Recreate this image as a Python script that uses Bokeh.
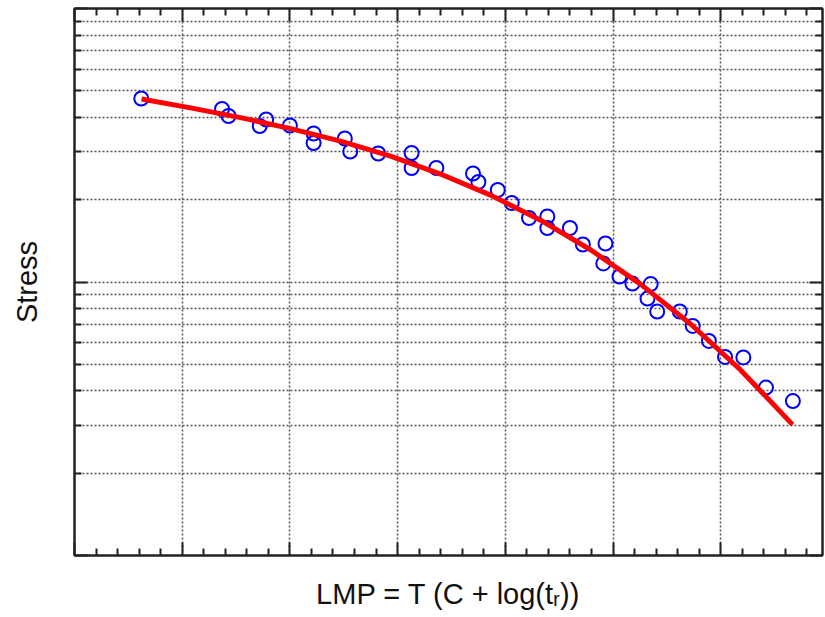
from bokeh.plotting import figure
from bokeh.models import Range1d, FixedTicker, LinearAxis, LogAxis
from bokeh.embed import file_html
from bokeh.resources import INLINE

# ---- data ----
lmp = [16.62, 17.37, 17.43, 17.72, 17.78, 18.00, 18.22, 18.22, 18.51, 18.56,
       18.82, 19.13, 19.13, 19.36, 19.70, 19.75, 19.93, 20.06, 20.22, 20.39,
       20.39, 20.60, 20.72, 20.93, 20.91, 21.06, 21.18, 21.35, 21.32, 21.41,
       21.62, 21.74, 21.89, 22.04, 22.21, 22.42, 22.67]
stress = [468.7, 429.1, 404.5, 371.9, 392.8, 373.4, 349.1, 322.3, 334.7, 300.0,
          295.0, 296.3, 261.1, 261.1, 249.3, 232.1, 217.0, 194.5, 171.4, 173.6,
          157.6, 157.6, 137.1, 138.3, 116.9, 104.7, 98.7, 98.3, 87.0, 78.0,
          78.0, 69.1, 60.9, 53.2, 53.0, 41.1, 36.7]

fit_lmp = [16.622, 17.077, 17.541, 18.006, 18.470, 18.934, 19.398, 19.863,
           20.327, 20.791, 21.255, 21.720, 22.184, 22.667]
fit_stress = [466.8, 433.1, 399.1, 363.8, 327.2, 288.4, 248.2, 207.8,
              168.3, 131.2, 98.2, 70.2, 47.7, 30.1]

x_major = [16, 17, 18, 19, 20, 21, 22]
x_minor = [16.2, 16.4, 16.6, 16.8, 17.2, 17.4, 17.6, 17.8, 18.2, 18.4, 18.6, 18.8,
           19.2, 19.4, 19.6, 19.8, 20.2, 20.4, 20.6, 20.8, 21.2, 21.4, 21.6, 21.8,
           22.2, 22.4, 22.6, 22.8]
y_major = [10, 100, 1000]
y_minor = [20, 30, 40, 50, 60, 70, 80, 90, 200, 300, 400, 500, 600, 700, 800, 900]

x_label = "LMP = T (C + log(t\u1d63))"
y_label = "Stress"

FONT = "Liberation Sans"
INK = "#222222"
GRID = "#555555"

p = figure(width=825, height=617, output_backend="svg", toolbar_location=None,
           x_range=Range1d(16, 22.945), y_range=Range1d(10, 1000),
           y_axis_type="log",
           min_border_left=74, min_border_right=3, min_border_top=8,
           min_border_bottom=62)
p.background_fill_color = "white"
p.border_fill_color = "white"
p.outline_line_color = INK
p.outline_line_width = 2

xt = FixedTicker(ticks=x_major, minor_ticks=x_minor)
yt = FixedTicker(ticks=y_major, minor_ticks=y_minor)


def style(ax, ticker):
    ax.ticker = ticker
    ax.major_label_text_font_size = "1px"
    ax.major_label_text_color = None
    ax.major_label_standoff = 0
    ax.major_tick_in = 13
    ax.major_tick_out = 0
    ax.minor_tick_in = 7
    ax.minor_tick_out = 0
    ax.major_tick_line_width = 2
    ax.minor_tick_line_width = 2
    ax.major_tick_line_color = INK
    ax.minor_tick_line_color = INK
    ax.axis_line_width = 2
    ax.axis_line_color = INK


bottom = p.below[0]
left = p.left[0]
style(bottom, xt)
style(left, yt)
top = LinearAxis()
style(top, xt)
right = LogAxis()
style(right, yt)
p.add_layout(top, "above")
p.add_layout(right, "right")

left.axis_label = y_label
left.axis_label_text_font = FONT
left.axis_label_text_font_size = "29px"
left.axis_label_text_font_style = "normal"
left.axis_label_text_color = "#111111"
left.axis_label_standoff = 32

bottom.axis_label = x_label
bottom.axis_label_text_font = FONT
bottom.axis_label_text_font_size = "29px"
bottom.axis_label_text_font_style = "normal"
bottom.axis_label_text_color = "#111111"
bottom.axis_label_standoff = 22

p.xgrid.ticker = xt
p.xgrid.grid_line_color = GRID
p.xgrid.grid_line_dash = "2 2"
p.xgrid.grid_line_width = 1.5
p.ygrid.ticker = yt
p.ygrid.grid_line_color = GRID
p.ygrid.grid_line_dash = "2 2"
p.ygrid.grid_line_width = 1.5
p.ygrid.minor_grid_line_color = GRID
p.ygrid.minor_grid_line_dash = "2 2"
p.ygrid.minor_grid_line_width = 1.5

p.scatter(lmp, stress, size=14, marker="circle", line_color="#0000FF",
          fill_color=None, line_width=2)
p.line(fit_lmp, fit_stress, line_color="#FF0000", line_width=5)

open("out.html", "w").write(file_html(p, INLINE))
